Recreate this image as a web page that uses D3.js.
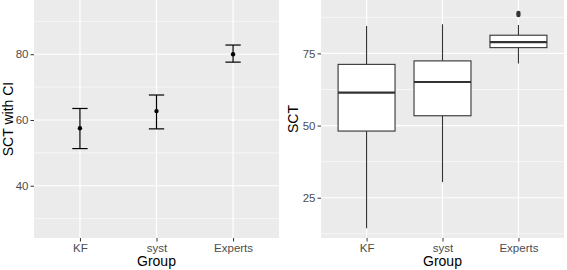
<!DOCTYPE html>
<html>
<head>
<meta charset="utf-8">
<script src="https://cdn.jsdelivr.net/npm/d3@7"></script>
<style>
  body { margin: 0; background: #fff; }
  svg { display: block; font-family: "Liberation Sans", Arial, sans-serif; }
</style>
</head>
<body>
<div id="chart"></div>
<script>
// categories
const groups = ["KF", "syst", "Experts"];

// left panel: mean with CI
const ciMean = [57.5, 62.7, 80.0];
const ciLow = [51.3, 57.3, 77.6];
const ciHigh = [63.5, 67.6, 82.8];

// right panel: boxplot stats
const boxLow = [14.4, 30.4, 71.5];
const boxQ1 = [48.1, 53.4, 77.0];
const boxMed = [61.4, 65.1, 78.9];
const boxQ3 = [71.2, 72.4, 81.3];
const boxHigh = [84.5, 85.1, 84.8];
const outliers = [{g: "Experts", v: 89.0}, {g: "Experts", v: 88.3}];

const leftTicks = [40, 60, 80];
const leftMinor = [30, 50, 70, 90];
const rightTicks = [25, 50, 75];
const rightMinor = [12.5, 37.5, 62.5, 87.5];

const width = 567, height = 270;
const svg = d3.select("#chart").append("svg")
    .attr("width", width)
    .attr("height", height);

function panel({x0, x1, yDomain, ticks, minor, yTitle, titleX}) {
    const top = 0, bottom = 238;
    const x = d3.scalePoint(groups, [x0, x1]).padding(0.6);
    const y = d3.scaleLinear(yDomain, [bottom, top]);

    const g = svg.append("g");
    g.append("rect")
        .attr("x", x0).attr("y", top)
        .attr("width", x1 - x0).attr("height", bottom - top)
        .attr("fill", "#ebebeb");

    // grid
    g.selectAll(".minor").data(minor).join("line")
        .attr("x1", x0).attr("x2", x1)
        .attr("y1", d => y(d)).attr("y2", d => y(d))
        .attr("stroke", "#fff").attr("stroke-width", 0.6);
    g.selectAll(".major").data(ticks).join("line")
        .attr("x1", x0).attr("x2", x1)
        .attr("y1", d => y(d)).attr("y2", d => y(d))
        .attr("stroke", "#fff").attr("stroke-width", 1.2);
    g.selectAll(".vmajor").data(groups).join("line")
        .attr("x1", d => x(d)).attr("x2", d => x(d))
        .attr("y1", top).attr("y2", bottom)
        .attr("stroke", "#fff").attr("stroke-width", 1.2);

    // y axis
    const yAxis = g.append("g")
        .attr("transform", `translate(${x0},0)`)
        .call(d3.axisLeft(y).tickValues(ticks).tickSize(3.5).tickPadding(2));
    yAxis.select(".domain").remove();
    yAxis.selectAll("line").attr("stroke", "#333");
    yAxis.selectAll("text").attr("fill", "#4d4d4d")
        .style("font-size", "11.5px").style("font-family", "Liberation Sans, Arial, sans-serif");

    // x axis
    const xAxis = g.append("g")
        .attr("transform", `translate(0,${bottom})`)
        .call(d3.axisBottom(x).tickSize(3.5).tickPadding(2));
    xAxis.select(".domain").remove();
    xAxis.selectAll("line").attr("stroke", "#333");
    xAxis.selectAll("text").attr("fill", "#4d4d4d")
        .style("font-size", "11.5px").style("font-family", "Liberation Sans, Arial, sans-serif");

    g.append("text")
        .attr("x", (x0 + x1) / 2).attr("y", 266)
        .attr("text-anchor", "middle")
        .style("font-size", "14px")
        .text("Group");

    g.append("text")
        .attr("transform", `translate(${titleX},${(top + bottom) / 2}) rotate(-90)`)
        .attr("text-anchor", "middle")
        .style("font-size", "14px")
        .text(yTitle);

    return {g, x, y};
}

// left: error bars
const L = panel({x0: 34, x1: 279, yDomain: [24.1, 96.5], ticks: leftTicks,
    minor: leftMinor, yTitle: "SCT with CI", titleX: 13});
const capW = L.x.step() * 0.1;
groups.forEach((grp, i) => {
    const cx = L.x(grp);
    const e = L.g.append("g").attr("stroke", "#000").attr("stroke-width", 1.2);
    e.append("line").attr("x1", cx).attr("x2", cx)
        .attr("y1", L.y(ciLow[i])).attr("y2", L.y(ciHigh[i]));
    e.append("line").attr("x1", cx - capW).attr("x2", cx + capW)
        .attr("y1", L.y(ciLow[i])).attr("y2", L.y(ciLow[i]));
    e.append("line").attr("x1", cx - capW).attr("x2", cx + capW)
        .attr("y1", L.y(ciHigh[i])).attr("y2", L.y(ciHigh[i]));
    L.g.append("circle").attr("cx", cx).attr("cy", L.y(ciMean[i]))
        .attr("r", 2.2).attr("fill", "#000");
});

// right: boxplots
const R = panel({x0: 321, x1: 564, yDomain: [11.05, 93.5], ticks: rightTicks,
    minor: rightMinor, yTitle: "SCT", titleX: 298});
const boxW = R.x.step() * 0.75;
groups.forEach((grp, i) => {
    const cx = R.x(grp);
    const b = R.g.append("g").attr("stroke", "#333").attr("stroke-width", 1.1);
    b.append("line").attr("x1", cx).attr("x2", cx)
        .attr("y1", R.y(boxHigh[i])).attr("y2", R.y(boxQ3[i]));
    b.append("line").attr("x1", cx).attr("x2", cx)
        .attr("y1", R.y(boxQ1[i])).attr("y2", R.y(boxLow[i]));
    b.append("rect")
        .attr("x", cx - boxW / 2).attr("width", boxW)
        .attr("y", R.y(boxQ3[i])).attr("height", R.y(boxQ1[i]) - R.y(boxQ3[i]))
        .attr("fill", "#fff");
    b.append("line").attr("x1", cx - boxW / 2).attr("x2", cx + boxW / 2)
        .attr("y1", R.y(boxMed[i])).attr("y2", R.y(boxMed[i]))
        .attr("stroke-width", 2.2);
});
R.g.selectAll(".outlier").data(outliers).join("circle")
    .attr("cx", d => R.x(d.g)).attr("cy", d => R.y(d.v))
    .attr("r", 2.2).attr("fill", "#333");
</script>
</body>
</html>
